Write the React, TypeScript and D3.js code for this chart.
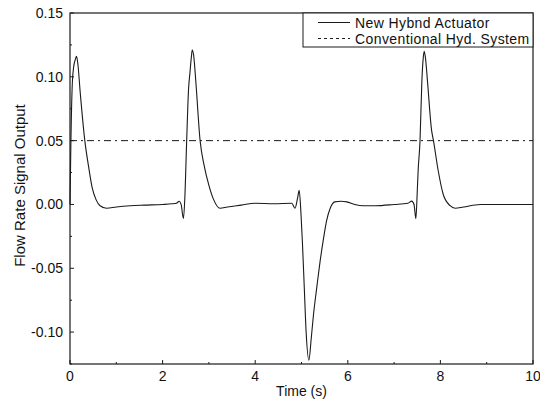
import React from "react";
import * as d3 from "d3";

// ---- data ----
const timeS = [
  0, 0.02, 0.05, 0.08, 0.11, 0.14, 0.17, 0.22, 0.32, 0.4, 0.48, 0.56, 0.65, 0.79, 1.0, 1.3, 1.6, 2.0,
  2.2, 2.3, 2.36, 2.4, 2.45, 2.48, 2.52, 2.56, 2.59, 2.62, 2.64, 2.67, 2.72, 2.81, 2.9, 3.0, 3.1, 3.24,
  3.4, 3.7, 4.0, 4.4, 4.79, 4.86, 4.92, 4.95, 4.99, 5.02, 5.06, 5.1, 5.16, 5.21, 5.26, 5.33, 5.4, 5.47,
  5.54, 5.62, 5.72, 5.85, 5.98, 6.15, 6.33, 6.6, 7.0, 7.3, 7.38, 7.43, 7.47, 7.5, 7.52, 7.56, 7.6, 7.63,
  7.65, 7.68, 7.72, 7.81, 7.85, 7.95, 8.06, 8.21, 8.32, 8.5, 8.86, 9.3, 10.0,
];
const hybridFlow = [
  0, 0.05, 0.095, 0.108, 0.113, 0.116, 0.11, 0.088, 0.05, 0.03, 0.013, 0.004, -0.001, -0.003, -0.002,
  -0.001, -0.0005, 0.0, 0.0005, 0.001, 0.0025, 0.0, -0.011, 0.005, 0.05, 0.09, 0.103, 0.115, 0.121,
  0.117, 0.095, 0.05, 0.03, 0.015, 0.004, -0.003, -0.002, -0.0005, 0.001, 0.0005, 0.001, -0.003, 0.006,
  0.011, -0.008, -0.03, -0.065, -0.1, -0.122, -0.105, -0.086, -0.065, -0.045, -0.028, -0.013, -0.003,
  0.002, 0.0025, 0.002, 0.0, -0.001, -0.001, 0.0, 0.001, 0.0026, 0.0, -0.011, 0.01, 0.027, 0.05, 0.097,
  0.115, 0.12, 0.114, 0.097, 0.058, 0.05, 0.027, 0.008, -0.001, -0.003, -0.002, 0.0, 0.0, 0.0,
];
const conventionalLevel = [0.05, 0.05];
const conventionalTime = [0, 10];

const xTicks = [0, 2, 4, 6, 8, 10];
const xTickLabels = ["0", "2", "4", "6", "8", "10"];
const xMinorTicks = [1, 3, 5, 7, 9];
const yTicks = [-0.1, -0.05, 0, 0.05, 0.1, 0.15];
const yTickLabels = ["-0.10", "-0.05", "0.00", "0.05", "0.10", "0.15"];
const yMinorTicks = [-0.125, -0.075, -0.025, 0.025, 0.075, 0.125];
const legendLabels = ["New Hybnd Actuator", "Conventional Hyd. System"];

const W = 540;
const H = 404;
const FONT = "'Liberation Sans', Arial, sans-serif";

export default function App() {
  const left = 70, right = 533, top = 13, bottom = 364;
  const x = d3.scaleLinear().domain([0, 10]).range([left, right]);
  const y = d3.scaleLinear().domain([-0.125, 0.15]).range([bottom, top]);

  const pts: [number, number][] = timeS.map((t, i) => [t, hybridFlow[i]]);
  const line = d3
    .line<[number, number]>()
    .x((d) => x(d[0]))
    .y((d) => y(d[1]))
    .curve(d3.curveMonotoneX);
  const convPts: [number, number][] = conventionalTime.map((t, i) => [t, conventionalLevel[i]]);
  const convLine = d3
    .line<[number, number]>()
    .x((d) => x(d[0]))
    .y((d) => y(d[1]));

  const stroke = "#1a1a1a";

  return (
    <svg
      width={W}
      height={H}
      style={{ position: "absolute", left: 0, top: 0, background: "#fff" }}
    >
      <rect x={0} y={0} width={W} height={H} fill="#fff" />
      {/* conventional */}
      <path
        d={convLine(convPts) || ""}
        fill="none"
        stroke={stroke}
        strokeWidth={1}
        strokeDasharray="7,4,2,4"
      />
      {/* hybrid */}
      <path d={line(pts) || ""} fill="none" stroke={stroke} strokeWidth={1.1} />

      {/* frame */}
      <rect
        x={left}
        y={top}
        width={right - left}
        height={bottom - top}
        fill="none"
        stroke={stroke}
        strokeWidth={1.2}
      />

      {/* x ticks */}
      {xTicks.map((t, i) => (
        <g key={"xt" + i}>
          <line x1={x(t)} x2={x(t)} y1={bottom} y2={bottom - 4} stroke={stroke} />
          <text
            x={x(t)}
            y={381}
            textAnchor="middle"
            fontFamily={FONT}
            fontSize={14}
            fill="#111"
          >
            {xTickLabels[i]}
          </text>
        </g>
      ))}
      {xMinorTicks.map((t, i) => (
        <line key={"xm" + i} x1={x(t)} x2={x(t)} y1={bottom} y2={bottom - 2} stroke={stroke} />
      ))}

      {/* y ticks */}
      {yTicks.map((v, i) => (
        <g key={"yt" + i}>
          <line x1={left} x2={left + 4} y1={y(v)} y2={y(v)} stroke={stroke} />
          <text
            x={63}
            y={y(v) + 5}
            textAnchor="end"
            fontFamily={FONT}
            fontSize={14}
            fill="#111"
          >
            {yTickLabels[i]}
          </text>
        </g>
      ))}
      {yMinorTicks.map((v, i) => (
        <line key={"ym" + i} x1={left} x2={left + 2} y1={y(v)} y2={y(v)} stroke={stroke} />
      ))}

      {/* axis titles */}
      <text
        x={(left + right) / 2}
        y={396}
        textAnchor="middle"
        fontFamily={FONT}
        fontSize={14}
        fill="#111"
      >
        Time (s)
      </text>
      <text
        transform={`translate(25, ${(top + bottom) / 2 - 3}) rotate(-90)`}
        textAnchor="middle"
        fontFamily={FONT}
        fontSize={15}
        fill="#111"
      >
        Flow Rate Signal Output
      </text>

      {/* legend */}
      <rect x={303} y={top} width={right - 303} height={34} fill="#fff" stroke={stroke} strokeWidth={1} />
      <line x1={318} x2={350} y1={22.5} y2={22.5} stroke={stroke} strokeWidth={1} />
      <line x1={318} x2={350} y1={38.5} y2={38.5} stroke={stroke} strokeWidth={1} strokeDasharray="3,3" />
      <text x={355} y={27.5} fontFamily={FONT} fontSize={14} letterSpacing={0.4} fill="#111">
        {legendLabels[0]}
      </text>
      <text x={355} y={43.5} fontFamily={FONT} fontSize={14} letterSpacing={0.4} fill="#111">
        {legendLabels[1]}
      </text>
    </svg>
  );
}
